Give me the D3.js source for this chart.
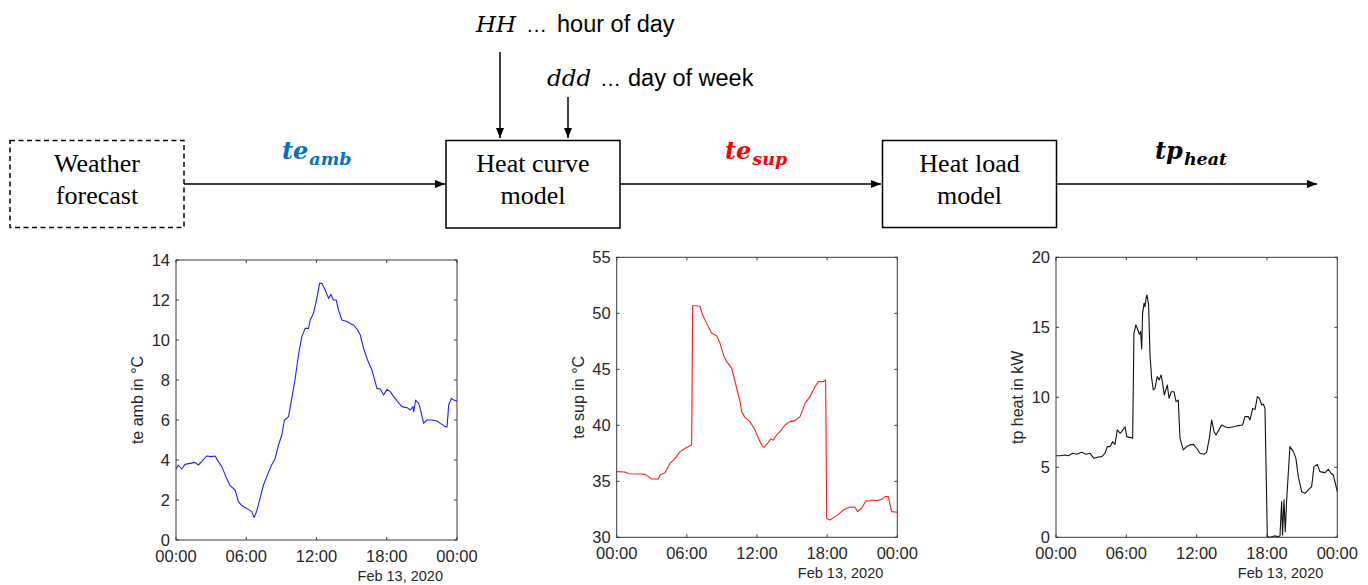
<!DOCTYPE html>
<html>
<head>
<meta charset="utf-8">
<script src="https://cdn.jsdelivr.net/npm/d3@7"></script>
<style>
  html, body { margin: 0; padding: 0; background: #fff; }
  svg { display: block; }
</style>
</head>
<body>
<svg id="fig" width="1368" height="585"></svg>
<script>
// ---- Series: hours after midnight, Feb 13 2020 ----
const ambHours = [0,0.2,0.48,0.77,1.2,1.62,1.91,2.19,2.62,3.05,3.34,3.62,3.91,4.33,4.62,5.05,5.33,5.62,6.04,6.47,6.67,6.9,7.18,7.47,7.75,8.1,8.47,8.75,9.04,9.26,9.61,9.89,10.18,10.46,10.75,11.03,11.32,11.46,11.74,12.03,12.26,12.46,12.74,13.03,13.23,13.45,13.68,13.88,14.17,14.6,14.88,15.17,15.51,15.74,16.02,16.36,16.73,16.93,17.16,17.45,17.73,18.02,18.3,18.59,18.93,19.3,19.73,20.01,20.24,20.3,20.47,20.73,20.92,21.15,21.44,21.86,22.29,22.58,23.0,23.15,23.29,23.52,23.72,24.0];
const ambValues = [3.55,3.75,3.55,3.78,3.83,3.88,3.75,3.92,4.2,4.17,4.2,3.92,3.67,3.08,2.72,2.5,1.92,1.72,1.58,1.42,1.12,1.45,2.08,2.75,3.17,3.67,4.08,4.75,5.25,6.0,6.17,7.08,8.08,9.25,10.17,10.58,10.58,11.0,11.33,12.08,12.83,12.83,12.5,12.08,12.28,12.0,12.0,11.5,11.0,10.92,10.83,10.75,10.5,10.25,9.58,9.0,8.5,8.08,7.58,7.55,7.25,7.53,7.42,7.17,6.92,6.67,6.62,6.5,6.67,6.42,7.0,6.83,6.42,5.83,6.0,6.0,5.95,5.83,5.67,5.67,6.75,7.08,7.0,6.95];

const supHours = [0,0.71,1.0,2.0,2.42,2.71,2.99,3.56,3.71,4.13,4.56,4.99,5.42,5.93,6.41,6.5,6.84,7.13,7.35,7.7,8.12,8.55,8.84,9.18,9.41,9.83,10.12,10.55,10.69,10.98,11.4,11.83,12.12,12.46,12.6,12.97,13.17,13.4,13.68,13.97,14.4,14.82,15.25,15.68,16.11,16.53,16.96,17.25,17.67,17.87,17.96,18.24,18.53,18.96,19.38,19.95,20.38,20.61,20.95,21.32,21.61,21.81,22.23,22.66,22.95,23.23,23.52,24.0];
const supValues = [35.86,35.83,35.68,35.65,35.62,35.42,35.21,35.21,35.57,35.77,36.61,37.05,37.65,38.0,38.24,50.68,50.68,50.6,49.85,49.1,48.21,48.0,47.32,46.13,45.68,45.1,43.9,42.11,41.22,40.68,40.33,39.58,38.84,38.1,38.04,38.48,38.78,38.69,39.14,39.43,40.03,40.33,40.42,40.77,41.96,42.56,43.45,43.9,43.9,44.05,31.7,31.55,31.76,32.05,32.44,32.71,32.68,32.29,32.59,33.27,33.24,33.33,33.27,33.39,33.63,33.63,32.29,32.23];

const heatHours = [0,0.34,0.77,1.05,1.42,1.76,2.19,2.56,2.9,3.24,3.61,3.9,4.18,4.38,4.61,4.83,5.03,5.23,5.46,5.6,5.89,6.03,6.37,6.54,6.65,6.82,7.02,7.11,7.22,7.31,7.39,7.51,7.59,7.68,7.76,7.9,8.02,8.16,8.3,8.44,8.64,8.81,8.96,9.1,9.24,9.5,9.64,9.84,10.07,10.24,10.43,10.58,10.86,11.15,11.43,11.71,12.0,12.28,12.62,12.85,13.08,13.28,13.48,13.65,13.85,14.13,14.42,14.7,15.13,15.55,15.92,16.12,16.4,16.55,16.78,16.98,17.18,17.35,17.55,17.69,17.83,18.03,18.26,18.6,18.97,19.11,19.25,19.33,19.45,19.56,19.67,19.96,20.25,20.47,20.67,20.96,21.24,21.53,21.81,22.01,22.29,22.52,22.95,23.23,23.46,23.66,24.0];
const heatValues = [5.83,5.83,5.88,5.83,6.0,5.93,6.07,5.93,6.0,5.64,5.74,5.76,6.0,6.48,6.48,6.83,6.64,7.67,7.43,7.55,7.9,7.19,7.12,7.07,14.57,15.17,14.74,14.5,14.69,13.45,16.0,16.71,16.48,17.07,17.31,16.6,13.02,11.36,10.52,10.64,11.48,11.24,11.6,11.0,10.17,10.88,9.93,10.4,10.4,9.69,9.81,7.07,6.24,6.48,6.6,6.64,6.36,6.0,5.93,6.07,7.07,8.38,7.55,7.31,7.6,8.02,7.9,7.83,7.9,7.98,8.02,8.62,8.62,8.38,9.21,9.12,10.05,9.93,9.45,9.52,9.21,0.05,0,0.1,0.05,0.1,2.55,0.17,2.67,0.4,2.55,6.48,6.12,5.64,4.33,3.26,3.14,3.38,3.62,5.05,5.21,4.69,4.62,4.86,4.57,4.45,3.26];

// ---- Axis ticks and labels ----
const ambTicks = [0, 2, 4, 6, 8, 10, 12, 14];
const supTicks = [30, 35, 40, 45, 50, 55];
const heatTicks = [0, 5, 10, 15, 20];
const timeTickHours = [0, 6, 12, 18, 24];
const dateLabel = "Feb 13, 2020";
const axisTitles = ["te amb in \u00B0C", "te sup in \u00B0C", "tp heat in kW"];

const day0 = new Date(2020, 1, 13, 0, 0);
const toDate = h => new Date(day0.getTime() + h * 3600 * 1000);

const svg = d3.select("#fig");
const INK = "#262626";
const SANS = "'Liberation Sans', Arial, sans-serif";

// ---- Block diagram ----
const defs = svg.append("defs");
defs.append("marker")
  .attr("id", "head")
  .attr("markerUnits", "userSpaceOnUse")
  .attr("markerWidth", 10).attr("markerHeight", 10)
  .attr("viewBox", "0 0 10 10")
  .attr("refX", 10).attr("refY", 5)
  .attr("orient", "auto")
  .append("path").attr("d", "M0,1 L10,5 L0,9 Z").attr("fill", "#000");

const diagram = svg.append("g");

const boxes = [
  { x: 10, y: 140.5, w: 174, h: 87, lines: ["Weather", "forecast"], dashed: true },
  { x: 446, y: 140.5, w: 174, h: 87.5, lines: ["Heat curve", "model"] },
  { x: 882.5, y: 140.5, w: 174, h: 87, lines: ["Heat load", "model"] }
];
boxes.forEach(b => {
  diagram.append("rect")
    .attr("x", b.x).attr("y", b.y).attr("width", b.w).attr("height", b.h)
    .attr("fill", "none").attr("stroke", "#000").attr("stroke-width", 1.5)
    .attr("stroke-dasharray", b.dashed ? "5,3.5" : null);
  b.lines.forEach((t, i) => {
    diagram.append("text")
      .attr("x", b.x + b.w / 2).attr("y", 172 + i * 32)
      .attr("text-anchor", "middle")
      .attr("font-family", "'Liberation Serif', 'Times New Roman', serif")
      .attr("font-size", 26).attr("fill", "#000")
      .text(t);
  });
});

const arrows = [
  [184, 184, 445, 184],
  [620, 184, 881, 184],
  [1057, 184, 1317, 184],
  [500, 52, 500, 138],
  [568, 97, 568, 138]
];
arrows.forEach(a => {
  diagram.append("line")
    .attr("x1", a[0]).attr("y1", a[1]).attr("x2", a[2]).attr("y2", a[3])
    .attr("stroke", "#000").attr("stroke-width", 1.5)
    .attr("marker-end", "url(#head)");
});

// signal names with subscripts
const signals = [
  { x: 282, main: "te", sub: "amb", color: "#0070C0" },
  { x: 725, main: "te", sub: "sup", color: "#FF0000" },
  { x: 1155, main: "tp", sub: "heat", color: "#000000" }
];
signals.forEach(s => {
  const t = diagram.append("text")
    .attr("x", s.x).attr("y", 159)
    .attr("font-family", "'DejaVu Serif', serif")
    .attr("font-style", "italic").attr("font-weight", "bold")
    .attr("fill", s.color);
  t.append("tspan").attr("font-size", 24).text(s.main);
  t.append("tspan").attr("font-size", 17.5).attr("dy", 6).attr("dx", 1).text(s.sub);
});

// calendar inputs: symbol, ellipsis, description
const inputs = [
  { y: 32, sym: "HH", symX: 476, dotsX: 526, textX: 557, text: "hour of day" },
  { y: 86, sym: "ddd", symX: 547, dotsX: 600, textX: 628, text: "day of week" }
];
inputs.forEach(d => {
  diagram.append("text").attr("x", d.symX).attr("y", d.y)
    .attr("font-family", "'DejaVu Serif', serif").attr("font-style", "italic")
    .attr("font-size", 23).attr("fill", "#000").text(d.sym);
  diagram.append("text").attr("x", d.dotsX).attr("y", d.y)
    .attr("font-family", SANS).attr("font-size", 21).attr("fill", "#000").text("\u2026");
  diagram.append("text").attr("x", d.textX).attr("y", d.y)
    .attr("font-family", SANS).attr("font-size", 23.5).attr("fill", "#000").text(d.text);
});

// ---- Time-series panels ----
const panels = [
  { left: 176, top: 260, width: 281, height: 280, hours: ambHours, values: ambValues,
    domain: [0, 14], ticks: ambTicks, color: "#1f1fff", title: axisTitles[0] },
  { left: 616.7, top: 257.3, width: 280.6, height: 280, hours: supHours, values: supValues,
    domain: [30, 55], ticks: supTicks, color: "#ff1f1f", title: axisTitles[1] },
  { left: 1056, top: 257.3, width: 281.3, height: 280, hours: heatHours, values: heatValues,
    domain: [0, 20], ticks: heatTicks, color: "#111111", title: axisTitles[2] }
];

const fmt = d3.timeFormat("%H:%M");
const TICK = 3;

panels.forEach(p => {
  const g = svg.append("g");
  const x = d3.scaleTime().domain([toDate(0), toDate(24)]).range([p.left, p.left + p.width]);
  const y = d3.scaleLinear().domain(p.domain).range([p.top + p.height, p.top]);
  const right = p.left + p.width, bottom = p.top + p.height;

  // data line
  const pts = p.hours.map((h, i) => [toDate(h), p.values[i]]);
  g.append("path")
    .datum(pts)
    .attr("d", d3.line().x(d => x(d[0])).y(d => y(d[1])))
    .attr("fill", "none").attr("stroke", p.color).attr("stroke-width", 1.1)
    .attr("stroke-linejoin", "round");

  // frame
  g.append("rect")
    .attr("x", p.left).attr("y", p.top).attr("width", p.width).attr("height", p.height)
    .attr("fill", "none").attr("stroke", "#3a3a3a").attr("stroke-width", 1);

  // y ticks (inside, both sides) and labels
  p.ticks.forEach(v => {
    const yy = y(v);
    g.append("line").attr("x1", p.left).attr("x2", p.left + TICK).attr("y1", yy).attr("y2", yy)
      .attr("stroke", "#3a3a3a");
    g.append("line").attr("x1", right).attr("x2", right - TICK).attr("y1", yy).attr("y2", yy)
      .attr("stroke", "#3a3a3a");
    g.append("text")
      .attr("x", p.left - 6).attr("y", yy).attr("dy", "0.34em")
      .attr("text-anchor", "end")
      .attr("font-family", SANS)
      .attr("font-size", 16.5).attr("fill", INK)
      .text(v);
  });

  // time ticks and labels
  timeTickHours.forEach(h => {
    const xx = x(toDate(h));
    g.append("line").attr("x1", xx).attr("x2", xx).attr("y1", bottom).attr("y2", bottom - TICK)
      .attr("stroke", "#3a3a3a");
    g.append("line").attr("x1", xx).attr("x2", xx).attr("y1", p.top).attr("y2", p.top + TICK)
      .attr("stroke", "#3a3a3a");
    g.append("text")
      .attr("x", xx).attr("y", bottom + 22)
      .attr("text-anchor", "middle")
      .attr("font-family", SANS)
      .attr("font-size", 16.5).attr("fill", INK)
      .text(fmt(toDate(h)));
  });

  // date stamp
  g.append("text")
    .attr("x", right - 14).attr("y", bottom + 41)
    .attr("text-anchor", "end")
    .attr("font-family", SANS)
    .attr("font-size", 14.5).attr("fill", INK)
    .text(dateLabel);

  // y axis title
  g.append("text")
    .attr("transform", `translate(${p.left - 33},${p.top + p.height / 2}) rotate(-90)`)
    .attr("text-anchor", "middle")
    .attr("font-family", SANS)
    .attr("font-size", 16).attr("fill", INK)
    .text(p.title);
});
</script>
</body>
</html>
